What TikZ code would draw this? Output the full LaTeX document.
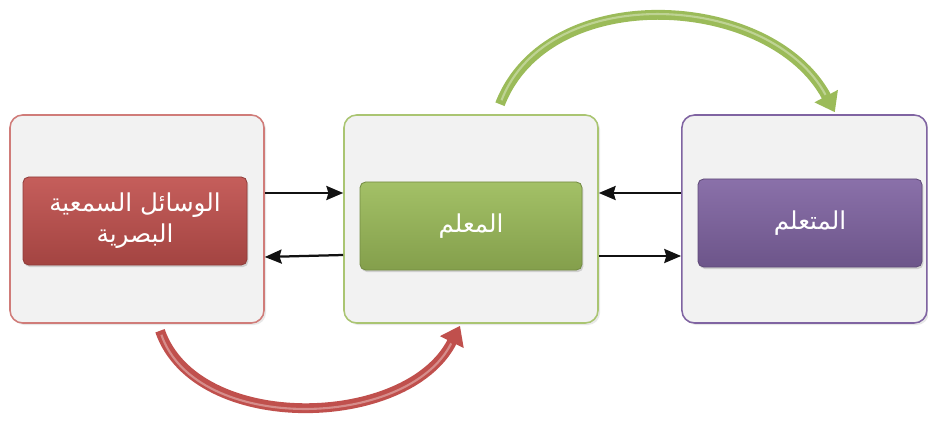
\documentclass[tikz,border=0pt]{standalone}
\usepackage{fontspec}
\newfontfamily\arabicfont[Script=Arabic]{DejaVu Sans}
\TeXXeTstate=1
\usetikzlibrary{arrows.meta,shadows}
\definecolor{cRed}{HTML}{C0504D}
\definecolor{cGrn}{HTML}{9BBB59}
\definecolor{cPur}{HTML}{8064A2}
\definecolor{cPane}{HTML}{F2F2F2}
\definecolor{cInk}{HTML}{111111}
\tikzset{
  every node/.style={font=\arabicfont\fontsize{17.5}{22}\selectfont, text=white},
  pane/.style={draw=#1, line width=1.1pt, fill=cPane, rounded corners=9pt, minimum height=5.2cm,
     drop shadow={opacity=0.18, shadow xshift=1.5pt, shadow yshift=-1.5pt}},
  tag/.style={draw=#1!75!black, line width=0.6pt, top color=#1!92!white, bottom color=#1!85!black,
     rounded corners=4pt, minimum height=2.2cm, minimum width=5.6cm, align=center,
     drop shadow={opacity=0.3, shadow xshift=1pt, shadow yshift=-1.5pt}},
  arr/.style={-{Stealth[length=12pt,width=10pt,inset=1.5pt]}, line width=1.6pt, draw=cInk},
  swing/.style={-{Triangle[length=13pt,width=18pt]}, line width=7pt, draw=#1,
     postaction={draw=#1!65!white, line width=1.5pt, -, shorten >=14pt, shorten <=3pt}},
}

\begin{document}
\begin{tikzpicture}
\useasboundingbox (0,0) rectangle (23.2,10.5);
% panes
\node[pane=cRed!75, minimum width=6.35cm] (vis) at (3.425,5.025) {};
\node[pane=cGrn!85, minimum width=6.35cm] (teach) at (11.775,5.025) {};
\node[pane=cPur, minimum width=6.125cm] (learn) at (20.11,5.025) {};
% labels
\node[tag=cRed] (visT) at (3.375,4.975) {\beginR الوسائل السمعية\endR\\\beginR البصرية\endR};
\node[tag=cGrn, minimum width=5.55cm] (teachT) at (11.775,4.85) {\beginR المعلم\endR};
\node[tag=cPur] (learnT) at (20.25,4.925) {\beginR المتعلم\endR};
% links
\draw[arr] ([yshift=0.65cm]vis.east) -- ([yshift=0.65cm]teach.west);
\draw[arr] ([yshift=-0.9cm]teach.west) -- ([yshift=-0.95cm]vis.east);
\draw[arr] ([yshift=0.65cm]learn.west) -- ([yshift=0.65cm]teach.east);
\draw[arr] ([yshift=-0.925cm]teach.east) -- ([yshift=-0.925cm]learn.west);
% curved arrows
\draw[swing=cGrn] ([shift={(0.725,0.25)}]teach.north) .. controls +(1.2,3.1) and +(-1.6,3.0) .. ([shift={(0.76,0.05)}]learn.north);
\draw[swing=cRed] ([shift={(0.575,-0.175)}]vis.south) .. controls +(0.9,-2.6) and +(-1.3,-2.6) .. ([shift={(-0.275,-0.05)}]teach.south);
\end{tikzpicture}
\end{document}
